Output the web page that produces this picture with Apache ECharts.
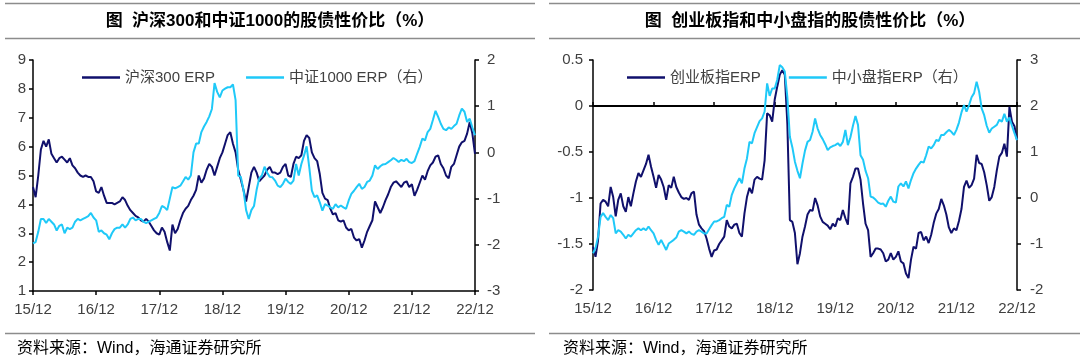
<!DOCTYPE html>
<html><head><meta charset="utf-8">
<script src="https://cdn.jsdelivr.net/npm/echarts@6/dist/echarts.min.js"></script>
<style>html,body{margin:0;padding:0;background:#fff}#c{width:1080px;height:358px}</style>
</head><body><div id="c"></div>
<script>
// x tick labels (every 12 months starting Dec 2015)
const xTickLabels = ['15/12','16/12','17/12','18/12','19/12','20/12','21/12','22/12'];
const monthStep = 0.5; // sampling step of the series (months since 2015-12)

const title1 = '图  沪深300和中证1000的股债性价比（%）';
const title2 = '图  创业板指和中小盘指的股债性价比（%）';
const sourceText = '资料来源：Wind，海通证券研究所';
const names = ['沪深300 ERP', '中证1000 ERP（右）', '创业板指ERP', '中小盘指ERP（右）'];

// 沪深300 ERP (left axis, %)
const hs300 = [
4.6,4.25,5.0,5.9,6.2,6.0,6.25,5.75,5.6,5.45,
5.6,5.65,5.55,5.45,5.6,5.35,5.25,5.1,5.0,4.95,
5.0,4.95,4.95,4.8,4.45,4.4,4.6,4.3,4.05,4.05,
4.05,4.0,4.05,4.1,4.25,4.15,3.95,3.8,3.7,3.6,
3.55,3.45,3.4,3.5,3.4,3.25,3.1,3.0,2.95,3.2,
3.05,2.7,2.4,3.3,3.0,3.15,3.45,3.7,3.85,3.95,
4.15,4.3,4.5,5.0,4.75,4.9,5.2,5.4,5.3,5.0,
5.3,5.6,5.8,6.1,6.4,6.5,6.1,5.8,5.2,4.85,
4.5,4.1,4.6,5.1,5.3,5.1,4.8,4.9,5.0,5.2,
5.3,
5.1,5.1,5.05,5.1,5.3,5.4,5.0,4.95,5.4,
5.65,5.6,5.7,6.2,6.4,6.3,5.8,5.6,5.5,5.05,
4.4,4.2,4.15,3.85,3.65,3.7,3.45,3.4,3.45,3.2,
3.1,3.15,2.85,2.75,2.8,2.5,2.75,3.05,3.25,3.45,
4.1,3.9,3.7,3.9,4.15,4.35,4.6,4.75,4.8,4.7,
4.6,4.75,4.8,4.6,4.7,4.3,4.5,4.75,5.0,4.85,
5.15,5.35,5.45,5.65,5.7,5.4,5.25,5.0,4.9,5.3,
5.4,5.7,6.0,6.15,6.2,6.45,6.85,6.45,5.75
];
// 中证1000 ERP (right axis, %)
const zz1000 = [
-1.97,-1.94,-1.72,-1.44,-1.44,-1.53,-1.44,-1.5,-1.56,-1.69,
-1.59,-1.56,-1.75,-1.63,-1.66,-1.63,-1.5,-1.44,-1.47,-1.44,
-1.41,-1.38,-1.31,-1.41,-1.47,-1.72,-1.69,-1.75,-1.78,-1.88,
-1.75,-1.66,-1.63,-1.63,-1.56,-1.63,-1.56,-1.44,-1.41,-1.47,
-1.44,-1.44,-1.5,-1.53,-1.5,-1.47,-1.44,-1.41,-1.31,-1.16,
-1.19,-1.25,-1.0,-0.75,-0.78,-0.75,-0.72,-0.63,-0.53,-0.59,
-0.5,0.0,0.19,0.19,0.44,0.56,0.66,0.78,0.94,1.5,
1.31,1.19,1.34,1.38,1.41,1.41,1.47,1.13,-0.5,-0.53,
-0.81,-1.25,-1.44,-1.25,-1.16,-0.81,-0.56,-0.5,-0.31,-0.44,
-0.53,
-0.54,-0.61,-0.72,-0.75,-0.68,-0.57,-0.64,-0.68,-0.61,
-0.25,-0.5,-0.25,-0.07,0.13,-0.32,-0.83,-0.97,-0.93,-1.08,
-1.26,-1.12,-1.15,-1.19,-1.22,-1.12,-1.19,-1.15,-1.19,-1.22,
-1.04,-0.9,-0.83,-0.75,-0.68,-0.79,-0.75,-0.64,-0.61,-0.5,
-0.28,-0.36,-0.3,-0.26,-0.25,-0.21,-0.17,-0.12,-0.16,-0.21,
-0.16,-0.19,-0.14,-0.21,-0.23,-0.19,-0.03,0.12,0.3,0.26,
0.44,0.51,0.7,0.9,0.77,0.62,0.51,0.48,0.54,0.51,
0.57,0.62,0.8,0.95,0.88,0.66,0.73,0.54,0.37
];
// 创业板指 ERP (left axis, %)
const cyb = [
-1.53,-1.64,-1.46,-1.06,-1.02,-1.04,-1.09,-0.88,-0.99,-1.20,
-1.02,-0.95,-1.09,-1.15,-0.99,-1.09,-0.95,-0.82,-0.73,-0.77,
-0.70,-0.63,-0.53,-0.66,-0.77,-0.89,-0.75,-0.80,-0.88,-1.02,
-0.86,-0.89,-0.77,-0.88,-0.94,-0.99,-1.01,-1.00,-1.02,-0.95,
-0.93,-1.18,-1.29,-1.33,-1.36,-1.44,-1.55,-1.64,-1.57,-1.56,
-1.50,-1.46,-1.42,-1.24,-1.31,-1.33,-1.29,-1.28,-1.38,-1.42,
-1.17,-0.99,-0.89,-0.95,-0.80,-0.77,-0.79,-0.80,-0.59,-0.08,
-0.10,-0.17,0.07,0.21,0.34,0.39,0.34,-0.19,-1.24,-1.26,
-1.38,-1.72,-1.60,-1.42,-1.31,-1.18,-1.13,
-1.14,-1.00,-1.08,-1.20,-1.26,-1.28,-1.30,-1.34,-1.28,-1.31,
-1.22,-1.24,-1.13,-1.22,-1.29,-0.84,-0.77,-0.68,-0.68,-0.80,
-1.06,-1.28,-1.35,-1.64,-1.60,-1.55,-1.55,-1.56,-1.60,-1.69,
-1.67,-1.60,-1.67,-1.64,-1.58,-1.69,-1.71,-1.82,-1.87,-1.67,
-1.53,-1.55,-1.38,-1.37,-1.46,-1.42,-1.49,-1.40,-1.27,-1.17,
-1.12,-1.01,-1.08,-1.18,-1.32,-1.38,-1.33,-1.35,-1.25,-1.12,
-0.88,-0.81,-0.89,-0.86,-0.79,-0.53,-0.62,-0.63,-0.72,-0.86,
-1.03,-0.99,-0.88,-0.70,-0.55,-0.51,-0.41,-0.55,-0.01,-0.17,
-0.22,-0.37
];
// 中小盘指 ERP (right axis, %)
const zxp = [
-1.20,-1.09,-0.84,-0.41,-0.33,-0.41,-0.48,-0.37,-0.44,-0.77,
-0.70,-0.73,-0.80,-0.88,-0.80,-0.84,-0.77,-0.70,-0.66,-0.70,
-0.66,-0.70,-0.62,-0.70,-0.77,-0.91,-1.02,-0.91,-1.02,-1.13,
-0.99,-0.95,-0.91,-0.86,-0.73,-0.70,-0.73,-0.77,-0.73,-0.78,
-0.80,-0.73,-0.70,-0.73,-0.77,-0.77,-0.68,-0.59,-0.51,-0.51,
-0.48,-0.44,-0.41,-0.15,-0.19,0.07,0.21,0.32,0.43,0.32,
0.64,0.86,1.22,1.19,1.41,1.54,1.67,1.73,1.88,2.49,
2.22,2.38,2.38,2.57,2.89,2.84,2.75,2.20,1.33,1.10,
0.79,0.59,0.43,0.75,1.03,1.22,1.26,
1.44,1.73,1.51,1.37,1.28,1.17,1.04,1.10,1.13,1.15,
1.19,1.13,1.22,1.48,1.15,1.32,1.57,1.78,1.59,0.93,
0.83,0.59,0.43,0.03,0.01,-0.04,-0.10,-0.13,-0.12,-0.19,
-0.06,0.03,-0.08,-0.10,0.25,0.32,0.25,0.36,0.21,0.39,
0.54,0.64,0.72,0.79,0.77,0.93,1.12,1.08,1.15,1.26,
1.24,1.37,1.37,1.43,1.48,1.44,1.37,1.48,1.64,1.86,
2.02,1.88,2.02,2.19,2.28,2.53,2.31,1.95,1.80,1.57,
1.42,1.51,1.55,1.59,1.70,1.66,1.83,1.66,1.75,1.57,
1.41,1.26
];

const DARK = '#10106c';
const LIGHT = '#1fc9f8';
const AXIS_COLOR = '#000';
const LABEL_COLOR = '#404040';
const FONT = '"Liberation Sans", Arial, "Noto Sans CJK SC", sans-serif';

function pairs(arr) { return arr.map((v, i) => [i * monthStep, v]); }

const labelStyle = { color: LABEL_COLOR, fontSize: 15, fontFamily: FONT };
function xAxisBase(grid) {
  return {
    type: 'value', gridIndex: grid, min: 0, max: 84, interval: 12,
    splitLine: { show: false },
    axisLabel: Object.assign({ margin: 11, formatter: v => xTickLabels[Math.round(v / 12)] }, labelStyle),
    axisLine: { onZero: false, lineStyle: { color: AXIS_COLOR, width: 1.5 } },
    axisTick: { length: 4, lineStyle: { color: AXIS_COLOR, width: 1.5 } }
  };
}
function yAxisBase(grid, pos, min, max, interval, margin) {
  return {
    type: 'value', gridIndex: grid, position: pos, min, max, interval,
    splitLine: { show: false },
    axisLabel: Object.assign({ margin }, labelStyle),
    axisLine: { show: true, onZero: false, lineStyle: { color: AXIS_COLOR, width: 1.5 } },
    axisTick: { show: true, length: 4, lineStyle: { color: AXIS_COLOR, width: 1.5 } }
  };
}

const x0 = xAxisBase(0);
const x1 = xAxisBase(1);
x1.axisLine = { show: false, onZero: false };
x1.axisTick = { show: false };
const x2 = xAxisBase(1);
x2.axisLabel = { show: false };
x2.axisLine = { show: true, onZero: true, onZeroAxisIndex: 2, lineStyle: { color: AXIS_COLOR, width: 2 } };

function lineSeries(name, data, xi, yi, color) {
  return {
    type: 'line', name, xAxisIndex: xi, yAxisIndex: yi, data: pairs(data),
    symbol: 'none', showSymbol: false, animation: false,
    lineStyle: { color, width: 2 }, itemStyle: { color }
  };
}

const hr = (x1_, x2_, y) => ({ type: 'line', silent: true,
  shape: { x1: x1_, y1: y, x2: x2_, y2: y }, style: { stroke: '#8c8c8c', lineWidth: 1.5 } });

const legendBase = { top: 70, padding: 0, icon: 'rect', itemWidth: 38, itemHeight: 2.5,
  textStyle: { color: LABEL_COLOR, fontSize: 15, fontFamily: FONT } };

const option = {
  backgroundColor: '#fff',
  animation: false,
  grid: [
    { left: 33, top: 60, width: 442, height: 231 },
    { left: 593, top: 60, width: 424, height: 230 }
  ],
  xAxis: [x0, x1, x2],
  yAxis: [
    yAxisBase(0, 'left', 1, 9, 1, 7),
    yAxisBase(0, 'right', -3, 2, 1, 12),
    yAxisBase(1, 'left', -2, 0.5, 0.5, 10),
    yAxisBase(1, 'right', -2, 3, 1, 13)
  ],
  legend: [
    Object.assign({ left: 82, itemGap: 31, data: [names[0], names[1]] }, legendBase),
    Object.assign({ left: 627, itemGap: 28, data: [names[2], names[3]] }, legendBase)
  ],
  series: [
    lineSeries(names[0], hs300, 0, 0, DARK),
    lineSeries(names[1], zz1000, 0, 1, LIGHT),
    lineSeries(names[2], cyb, 1, 2, DARK),
    lineSeries(names[3], zxp, 1, 3, LIGHT)
  ],
  graphic: [
    hr(5, 535, 3.5), hr(5, 535, 38.5), hr(549, 1080, 3.5), hr(549, 1080, 38.5),
    hr(5, 535, 333.5), hr(549, 1080, 333.5),
    { type: 'text', x: 270, y: 21, silent: true,
      style: { text: title1, align: 'center', verticalAlign: 'middle', fill: '#000',
        fontSize: 17, fontWeight: 'bold', fontFamily: FONT } },
    { type: 'text', x: 810, y: 21, silent: true,
      style: { text: title2, align: 'center', verticalAlign: 'middle', fill: '#000',
        fontSize: 17, fontWeight: 'bold', fontFamily: FONT } },
    { type: 'text', x: 17, y: 349, silent: true,
      style: { text: sourceText, align: 'left', verticalAlign: 'middle', fill: '#000',
        fontSize: 16, fontFamily: FONT } },
    { type: 'text', x: 563, y: 349, silent: true,
      style: { text: sourceText, align: 'left', verticalAlign: 'middle', fill: '#000',
        fontSize: 16, fontFamily: FONT } }
  ]
};

const chart = echarts.init(document.getElementById('c'), null, { renderer: 'canvas' });
chart.setOption(option);
</script>
</body></html>
